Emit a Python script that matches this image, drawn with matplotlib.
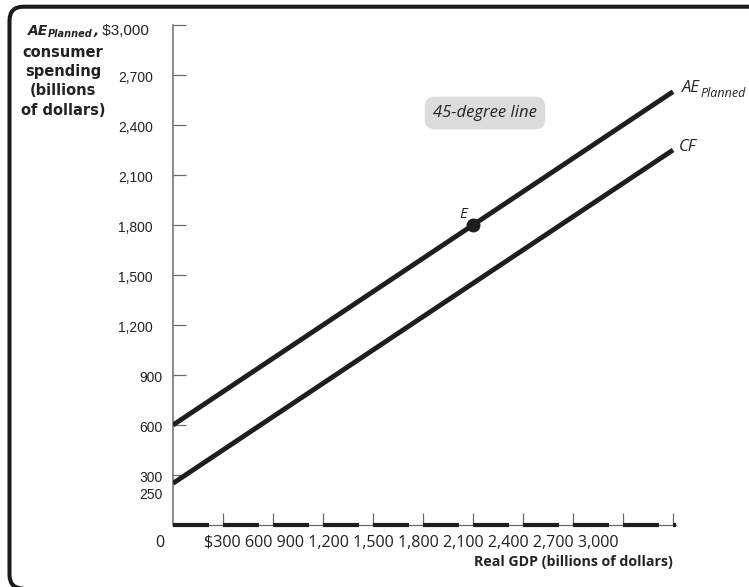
import matplotlib
matplotlib.use("Agg")
import matplotlib.pyplot as plt
from matplotlib.patches import FancyBboxPatch
from matplotlib.transforms import IdentityTransform, ScaledTranslation, blended_transform_factory

# ---- data -------------------------------------------------------------
gdp_ends = [0, 3000]                 # real GDP range of the lines (billions)
ae_planned = [600, 2600]             # planned aggregate expenditure
consumer_spending = [250, 2250]      # consumer spending function CF
equilibrium = (1800, 1800)           # point E

x_ticks = [300, 600, 900, 1200, 1500, 1800, 2100, 2400, 2700, 3000]
x_tick_labels = ["$300", "600", "900", "1,200", "1,500", "1,800",
                 "2,100", "2,400", "2,700", "3,000"]
y_ticks = [300, 600, 900, 1200, 1500, 1800, 2100, 2400, 2700, 3000]
y_label_values = [250, 300, 600, 900, 1200, 1500, 1800, 2100, 2400, 2700]
y_label_texts = ["250", "300", "600", "900", "1,200", "1,500", "1,800",
                 "2,100", "2,400", "2,700"]

# ---- figure -----------------------------------------------------------
W, H, DPI = 749, 587, 100
fig = plt.figure(figsize=(W / DPI, H / DPI), dpi=DPI)
fig.patch.set_facecolor("white")

X_MAX = 3020
ax = fig.add_axes([173 / W, (H - 525) / H, (X_MAX / 6) / W, 500 / H])
ax.set_xlim(0, X_MAX)
ax.set_ylim(0, 3000)
ax.patch.set_alpha(0)

axis_grey = "#6b6b6b"
ink = "#1e1e1e"
text_col = "#222222"
for side in ("top", "right"):
    ax.spines[side].set_visible(False)
ax.spines["left"].set_color(axis_grey)
ax.spines["left"].set_linewidth(1.1)
ax.spines["bottom"].set_color(axis_grey)
ax.spines["bottom"].set_linewidth(0.9)

ax.set_xticks(x_ticks)
ax.set_yticks(y_ticks)
ax.tick_params(axis="both", direction="in", length=9, width=0.9,
               color=axis_grey, labelbottom=False, labelleft=False)

# thick dashes along the GDP axis, one starting at each tick
for start in [0] + x_ticks:
    ax.plot([start, min(start + 216, X_MAX)], [0, 0], color=ink, lw=3.0,
            solid_capstyle="butt", clip_on=False, zorder=3)

# lines and equilibrium point
ax.plot(gdp_ends, ae_planned, color=ink, lw=3.5, solid_capstyle="butt", zorder=4)
ax.plot(gdp_ends, consumer_spending, color=ink, lw=3.5, solid_capstyle="butt", zorder=4)
ax.plot(*equilibrium, "o", color=ink, ms=9, zorder=5)

label_font = "Liberation Sans"
italic_font = "Open Sans"

ax.annotate("E", equilibrium, xytext=(-10, 10), textcoords="offset pixels",
            ha="center", va="center", fontsize=11, style="italic",
            family=italic_font, color=text_col)

ax.text(1872, 2472, "45-degree line", ha="center", va="center", fontsize=12,
        style="italic", family=italic_font, color=text_col,
        bbox=dict(boxstyle="round,pad=0.5,rounding_size=0.6",
                  fc="#dcdcdc", ec="none"))

# y tick labels
ylab_tr = blended_transform_factory(ax.transAxes, ax.transData)
for v, s in zip(y_label_values, y_label_texts):
    dx = -20 if "," in s else -10
    dy = -12 if v == 250 else -3
    off = ScaledTranslation(dx / DPI, dy / DPI, fig.dpi_scale_trans)
    ax.text(0, v, s, transform=ylab_tr + off, ha="right", va="center",
            fontsize=10, family=label_font, color=text_col)

# x tick labels written as one run of text
fig.text(204 / W, 1 - 543 / H, " ".join(x_tick_labels), ha="left", va="center",
         fontsize=11.6, family=italic_font, color=text_col)
fig.text(160 / W, 1 - 543 / H, "0", ha="center", va="center",
         fontsize=11.6, family=italic_font, color=text_col)
fig.text(673 / W, 1 - 562 / H, "Real GDP (billions of dollars)", ha="right",
         va="center", fontsize=10.2, weight="bold", family=italic_font,
         color=text_col)

renderer = fig.canvas.get_renderer()


def run_of_text(x_px, base_px, pieces):
    """Place pieces of text side by side; positions in display pixels."""
    x = x_px
    for s, props, dy in pieces:
        t = fig.text(x / W, (base_px - dy) / H, s, ha="left", va="baseline",
                     color=text_col, **props)
        x = t.get_window_extent(renderer).x1
    return x


bold_it = dict(family="DejaVu Sans", weight="bold", style="italic")
run_of_text(28, H - 35, [
    ("AE", dict(fontsize=10, **bold_it), 0),
    ("Planned", dict(fontsize=7, **bold_it), 2),
    (",", dict(fontsize=10, **bold_it), 0),
    (" $3,000", dict(fontsize=11, family=label_font), 0),
])
fig.text(63 / W, 1 - 45 / H, "consumer\nspending\n(billions\nof dollars)",
         ha="center", va="top", fontsize=10.5, weight="bold",
         family="DejaVu Sans", linespacing=1.35, color=text_col)

# curve labels at the right-hand ends
it = dict(family=italic_font, style="italic")
ex, ey = ax.transData.transform((gdp_ends[1], ae_planned[1]))
run_of_text(ex + 9, ey, [("AE", dict(fontsize=12, **it), 0),
                         ("Planned", dict(fontsize=9, **it), 5)])
cx, cy = ax.transData.transform((gdp_ends[1], consumer_spending[1]))
run_of_text(cx + 6, cy - 1, [("CF", dict(fontsize=12, **it), 0)])

# rounded frame around the whole chart
frame = FancyBboxPatch((9.5, -1.6), 800, (H - 6.7) + 1.6,
                       boxstyle="round,pad=0,rounding_size=14",
                       transform=IdentityTransform(), fc="none", ec="#1a1a1a",
                       lw=2.9, clip_on=False)
fig.patches.append(frame)

fig.savefig("out.png", dpi=DPI)
